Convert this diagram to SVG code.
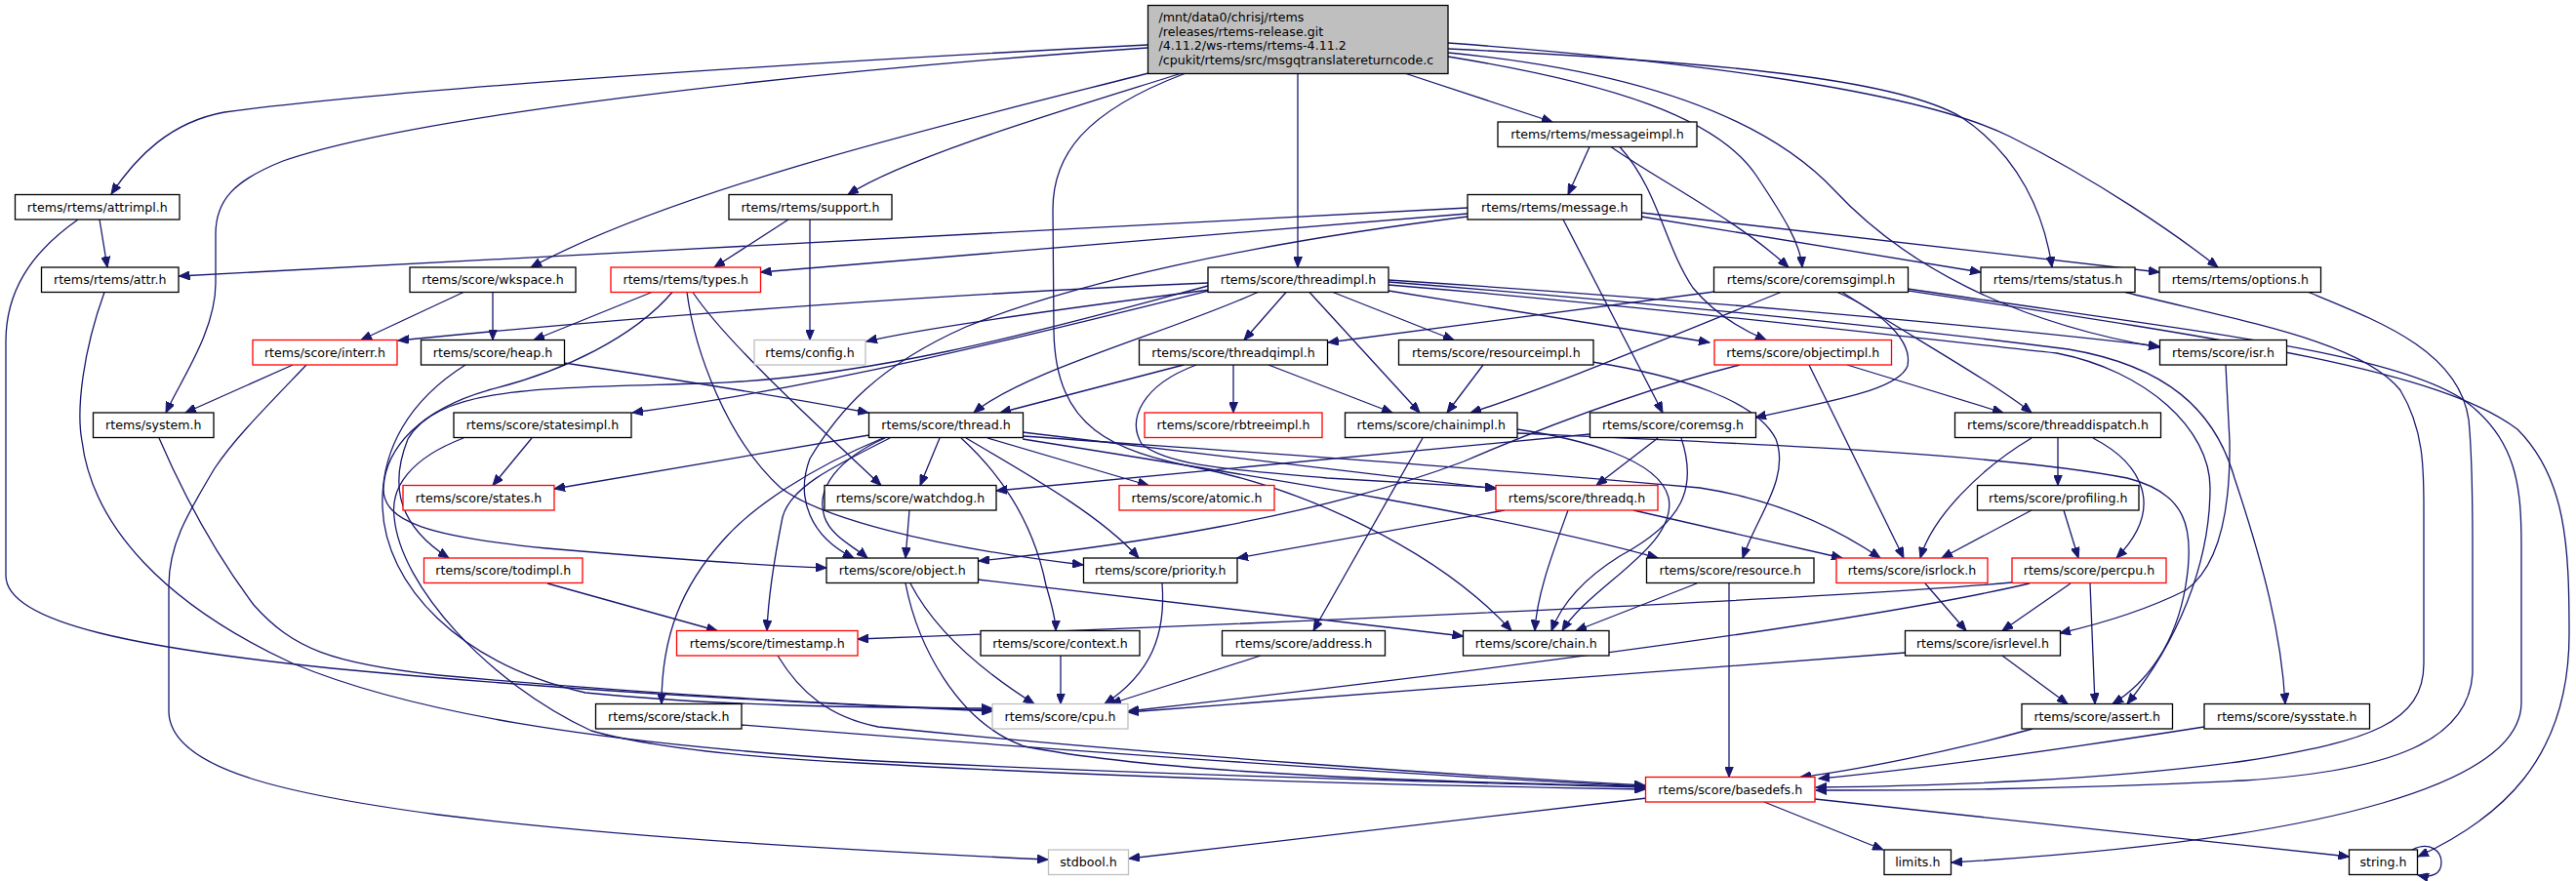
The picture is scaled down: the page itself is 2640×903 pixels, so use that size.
<svg xmlns="http://www.w3.org/2000/svg" width="2640" height="903" viewBox="0 0 2640 903">
<defs>
<marker id="a" markerUnits="userSpaceOnUse" markerWidth="12" markerHeight="9" refX="11" refY="4.5" orient="auto" viewBox="0 0 12 9"><path d="M0,0 L11,4.5 L0,9 z" fill="#191970" stroke="#191970" stroke-width="1"/></marker>
</defs>
<style>
.n rect{fill:#fff;stroke:#000;stroke-width:1.3}
.r rect{stroke:#ff0000}
.g rect{stroke:#bfbfbf}
text{font-family:"DejaVu Sans","Liberation Sans",sans-serif;font-size:12.6px;fill:#000;text-anchor:middle}
#edges path{fill:none;stroke:#191970;stroke-width:1.3;marker-end:url(#a)}
</style>
<rect width="2640" height="903" fill="#fff"/>
<g id="edges">
<path d="M1176,46 C900,60 430,88 230,115 C175,125 140,160 114,199"/>
<path d="M1176,49 C800,75 420,120 290,165 C240,185 221,205 221,240 L221,290 C221,340 185,390 170,423"/>
<path d="M1177,75 C1000,120 700,190 544,274"/>
<path d="M1211,75 C1100,110 930,160 869,199.5"/>
<path d="M1330,75.5 L1330,274"/>
<path d="M1441,75.5 L1591,125"/>
<path d="M1214,75.5 C1110,115 1079,160 1079,215 L1080,340 C1082,440 1140,462 1230,480 C1330,500 1470,560 1549,646.5"/>
<path d="M1484,58 C1650,85 1760,120 1800,180 C1830,225 1845,250 1847,274"/>
<path d="M1484,54 C1650,70 1800,110 1880,195 C1950,270 2060,330 2213,356"/>
<path d="M1484,50 C1800,65 1950,85 2010,120 C2070,160 2095,220 2103,274"/>
<path d="M1484,44 C1700,60 1960,90 2060,140 C2150,185 2230,240 2273,274"/>
<path d="M102,225 L110,274"/>
<path d="M80,225 C30,260 6,300 6,350 L6,590 C6,640 150,665 340,685 C600,710 850,722 1017,729"/>
<path d="M107,299.5 C85,360 78,420 84,452 C95,540 170,620 300,680 C420,730 600,760 880,779 C1200,795 1500,802 1686,807"/>
<path d="M163,449 C185,500 215,560 260,620 C300,665 340,680 449,692 C650,710 850,722 1017,728"/>
<path d="M300,374 L190,423"/>
<path d="M314,374 C270,420 240,450 220,480 C190,530 173,560 173,600 L173,730 C175,790 300,815 449,835 C650,860 900,873 1074,881"/>
<path d="M475,299.5 L370,348.5"/>
<path d="M505,299.5 L505,348.5"/>
<path d="M668,299.5 L547,348.5"/>
<path d="M689,299.5 C650,345 580,380 500,400 C430,420 395,460 393,500 C392,535 440,550 560,562 C700,574 790,580 847,582"/>
<path d="M710,299.5 C740,345 820,420 903,497.5"/>
<path d="M704,299.5 C712,360 745,450 800,500 C840,530 950,560 1110,579"/>
<path d="M808,225 L732,274"/>
<path d="M830,225 L830,348.5"/>
<path d="M578,372 C700,390 820,410 890,423"/>
<path d="M477,374 C420,410 390,460 392,520 C395,600 470,680 600,710 C750,725 900,725 1017,726"/>
<path d="M545,449 L505,497.5"/>
<path d="M475,449 C420,470 400,500 404,530 C410,600 500,700 606,749 C680,770 800,778 880,782 C1200,800 1500,806 1686,809"/>
<path d="M1238,290 C1000,300 700,320 408,349"/>
<path d="M1240,297 C1100,315 950,335 888,350"/>
<path d="M1239,298 C1050,345 850,395 648,423"/>
<path d="M1238,293 C1100,330 900,388 720,393 C560,398 450,395 418,450 C398,500 410,540 460,572"/>
<path d="M1289,299.5 C1200,340 1050,380 998,423"/>
<path d="M1318,299.5 L1275,348.5"/>
<path d="M1342,299.5 L1455,423"/>
<path d="M1366,299.5 L1490,348.5"/>
<path d="M1423,298 L1752,351"/>
<path d="M1423,287 C1700,305 2000,330 2213,355"/>
<path d="M1423,292 C1700,315 1950,345 2108,362 C2200,380 2265,440 2265,500 C2265,580 2230,660 2180,721.5"/>
<path d="M1423,289 C1720,312 1980,340 2120,358 C2220,375 2270,420 2290,490 C2320,580 2338,650 2342,721.5"/>
<path d="M1629,150.5 L1607,199.5"/>
<path d="M1651,150.5 C1700,185 1780,225 1833,274"/>
<path d="M1660,150.5 C1700,195 1705,250 1735,295 C1760,325 1790,340 1810,348.5"/>
<path d="M1504,213 L183.5,283"/>
<path d="M1504,219 L779.5,279"/>
<path d="M1504,222 C1280,250 1100,290 990,335 C900,375 860,420 830,470 C815,510 830,550 875,572"/>
<path d="M1602,225 L1704,423"/>
<path d="M1682,222 L2030,279"/>
<path d="M1682,218 L2213,279"/>
<path d="M1757,299 L1361,351"/>
<path d="M1825,299.5 C1700,350 1580,400 1507,423"/>
<path d="M1883,299.5 C1930,320 1960,350 1955,375 C1945,400 1880,410 1799,428"/>
<path d="M1888,299.5 C1950,340 2040,390 2082,423"/>
<path d="M1955,296 C2250,340 2450,360 2525,410 C2580,450 2584,500 2584,560 L2584,720 C2584,800 2400,860 2000,884"/>
<path d="M1955,298 C2300,350 2500,380 2580,440 C2630,490 2633,560 2633,650 C2633,780 2560,840 2478,878"/>
<path d="M2178,299.5 C2300,330 2420,350 2460,400 C2484,440 2484,480 2484,520 L2484,680 C2484,740 2430,760 2300,780 C2150,800 2000,805 1861,807"/>
<path d="M2366,299.5 C2440,330 2520,360 2530,430 C2534,470 2534,520 2534,560 L2534,690 C2530,760 2450,790 2300,800 C2100,810 1950,810 1861,810"/>
<path d="M2281,374 L2285,452 C2286,520 2275,580 2240,605 C2200,625 2150,640 2111,649"/>
<path d="M2109,449 L2109,497.5"/>
<path d="M2082,449 C2030,480 1980,530 1968,572"/>
<path d="M2145,449 C2195,475 2220,520 2169,572"/>
<path d="M2082,523 L1990,572"/>
<path d="M2115,523 L2130,572"/>
<path d="M1783,374 C1700,395 1600,430 1500,473 C1350,530 1150,560 1003,575"/>
<path d="M1854,374 L1951,572"/>
<path d="M1893,374 L2053,423"/>
<path d="M1520,374 L1483,423"/>
<path d="M1632,371 C1720,385 1800,410 1820,450 C1835,490 1800,530 1786,572"/>
<path d="M1213,374 L1025,423"/>
<path d="M1264,374 L1264,423"/>
<path d="M1300,374 L1427,423"/>
<path d="M1226,374 C1170,395 1155,430 1170,455 C1200,480 1280,482 1360,490 C1440,495 1490,497 1533,500"/>
<path d="M1048,443 L1533,501"/>
<path d="M890.5,446 L568,501"/>
<path d="M963,449 L943,497.5"/>
<path d="M907,449 C860,470 835,500 845,530 C852,550 875,560 889,572"/>
<path d="M905,449 C830,480 770,520 740,555 C700,600 678,650 678,721.5"/>
<path d="M912,449 C850,480 810,500 802,530 C792,580 787,620 786,646.5"/>
<path d="M990,449 C1060,490 1130,530 1167,572"/>
<path d="M985,449 C1030,490 1060,540 1072,600 C1078,620 1082,635 1082,646.5"/>
<path d="M1012,449 L1177,497.5"/>
<path d="M1048,447 C1300,465 1500,478 1742,500 C1820,512 1880,540 1927,572"/>
<path d="M1048,450 C1300,490 1550,530 1699,572"/>
<path d="M932,523 L928,572"/>
<path d="M928,598 C940,660 980,740 1050,765 C1200,795 1500,802 1686,806"/>
<path d="M933,598 C960,650 1010,690 1060,721.5"/>
<path d="M1002,594 L1499.5,652"/>
<path d="M1542,523 L1268,572"/>
<path d="M1607,523 C1590,570 1575,610 1573,646.5"/>
<path d="M1674,523 L1888,572"/>
<path d="M1699,449 L1636,497.5"/>
<path d="M1629.5,445 L1021,503"/>
<path d="M1723,449 C1740,500 1725,535 1660,570 C1620,595 1600,620 1590,646.5"/>
<path d="M1555,440 C1620,450 1700,470 1710,510 C1720,560 1630,600 1601,646.5"/>
<path d="M1458,449 L1346,646.5"/>
<path d="M1555,444 C1800,455 2050,465 2180,490 C2240,505 2250,540 2240,600 C2230,660 2200,700 2165,721.5"/>
<path d="M1739,598 L1615,646.5"/>
<path d="M1772,598 L1772,796.5"/>
<path d="M1087,672 L1087,721.5"/>
<path d="M1292,672 L1138,721.5"/>
<path d="M1191,598 C1195,650 1180,690 1132,721.5"/>
<path d="M561,598 L735,646.5"/>
<path d="M797,672 C820,710 850,735 900,745 C1200,775 1500,795 1686,805"/>
<path d="M760,743 C1100,770 1450,795 1686,806"/>
<path d="M1973,598 L2015,646.5"/>
<path d="M2122,598 L2052,646.5"/>
<path d="M2142,598 L2147,721.5"/>
<path d="M2062,597 C1900,612 1400,635 879,655"/>
<path d="M2080,598 C1900,640 1500,690 1156,729"/>
<path d="M1952.5,669 C1750,686 1400,710 1156,730"/>
<path d="M2052,672 L2119,721.5"/>
<path d="M2083,747 C2000,770 1900,790 1845,796.5"/>
<path d="M2259,745 C2100,770 1950,790 1864,798"/>
<path d="M1808,822 L1930,871"/>
<path d="M1860,819 L2407.5,878"/>
<path d="M1688,818 L1157,880"/>
<path d="M2472,871 C2490,862 2502,872 2502,884 C2502,896 2492,900 2478,897"/>
</g>
<g id="n_main" class="n"><rect x="1176.5" y="5.5" width="307.5" height="70" style="fill:#bfbfbf"/>
<text x="1187.5" y="21.8" style="text-anchor:start">/mnt/data0/chrisj/rtems</text>
<text x="1187.5" y="36.6" style="text-anchor:start">/releases/rtems-release.git</text>
<text x="1187.5" y="51.4" style="text-anchor:start">/4.11.2/ws-rtems/rtems-4.11.2</text>
<text x="1187.5" y="66.2" style="text-anchor:start">/cpukit/rtems/src/msgqtranslatereturncode.c</text></g>
<g id="n_attrimpl" class="n"><rect x="15.5" y="199.5" width="168.5" height="25.5"/><text x="99.75" y="216.7">rtems/rtems/attrimpl.h</text></g>
<g id="n_attr" class="n"><rect x="42.5" y="274" width="140.5" height="25.5"/><text x="112.75" y="291.2">rtems/rtems/attr.h</text></g>
<g id="n_wkspace" class="n"><rect x="420" y="274" width="170" height="25.5"/><text x="505" y="291.2">rtems/score/wkspace.h</text></g>
<g id="n_types" class="n r"><rect x="626" y="274" width="153.5" height="25.5"/><text x="702.75" y="291.2">rtems/rtems/types.h</text></g>
<g id="n_support" class="n"><rect x="747" y="199.5" width="167" height="25.5"/><text x="830.5" y="216.7">rtems/rtems/support.h</text></g>
<g id="n_interr" class="n r"><rect x="259" y="348.5" width="148" height="25.5"/><text x="333" y="365.7">rtems/score/interr.h</text></g>
<g id="n_heap" class="n"><rect x="431.5" y="348.5" width="147" height="25.5"/><text x="505" y="365.7">rtems/score/heap.h</text></g>
<g id="n_config" class="n g"><rect x="773" y="348.5" width="114" height="25.5"/><text x="830" y="365.7">rtems/config.h</text></g>
<g id="n_system" class="n"><rect x="95.5" y="423" width="123.5" height="25.5"/><text x="157.25" y="440.2">rtems/system.h</text></g>
<g id="n_statesimpl" class="n"><rect x="465" y="423" width="182" height="25.5"/><text x="556" y="440.2">rtems/score/statesimpl.h</text></g>
<g id="n_messageimpl" class="n"><rect x="1535" y="125" width="204" height="25.5"/><text x="1637" y="142.2">rtems/rtems/messageimpl.h</text></g>
<g id="n_message" class="n"><rect x="1504" y="199.5" width="178.5" height="25.5"/><text x="1593.25" y="216.7">rtems/rtems/message.h</text></g>
<g id="n_threadimpl" class="n"><rect x="1238" y="274" width="185" height="25.5"/><text x="1330.5" y="291.2">rtems/score/threadimpl.h</text></g>
<g id="n_threadqimpl" class="n"><rect x="1167.5" y="348.5" width="193" height="25.5"/><text x="1264" y="365.7">rtems/score/threadqimpl.h</text></g>
<g id="n_resourceimpl" class="n"><rect x="1433.5" y="348.5" width="199.5" height="25.5"/><text x="1533.25" y="365.7">rtems/score/resourceimpl.h</text></g>
<g id="n_objectimpl" class="n r"><rect x="1757" y="348.5" width="181.5" height="25.5"/><text x="1847.75" y="365.7">rtems/score/objectimpl.h</text></g>
<g id="n_thread" class="n"><rect x="890.5" y="423" width="158" height="25.5"/><text x="969.5" y="440.2">rtems/score/thread.h</text></g>
<g id="n_rbtreeimpl" class="n r"><rect x="1173" y="423" width="182" height="25.5"/><text x="1264" y="440.2">rtems/score/rbtreeimpl.h</text></g>
<g id="n_chainimpl" class="n"><rect x="1378.5" y="423" width="176.5" height="25.5"/><text x="1466.75" y="440.2">rtems/score/chainimpl.h</text></g>
<g id="n_coremsg" class="n"><rect x="1629.5" y="423" width="170" height="25.5"/><text x="1714.5" y="440.2">rtems/score/coremsg.h</text></g>
<g id="n_coremsgimpl" class="n"><rect x="1756.5" y="274" width="199" height="25.5"/><text x="1856" y="291.2">rtems/score/coremsgimpl.h</text></g>
<g id="n_status" class="n"><rect x="2030" y="274" width="158" height="25.5"/><text x="2109" y="291.2">rtems/rtems/status.h</text></g>
<g id="n_options" class="n"><rect x="2213" y="274" width="165.5" height="25.5"/><text x="2295.75" y="291.2">rtems/rtems/options.h</text></g>
<g id="n_isr" class="n"><rect x="2213.5" y="348.5" width="130" height="25.5"/><text x="2278.5" y="365.7">rtems/score/isr.h</text></g>
<g id="n_threaddispatch" class="n"><rect x="2003.5" y="423" width="211" height="25.5"/><text x="2109" y="440.2">rtems/score/threaddispatch.h</text></g>
<g id="n_states" class="n r"><rect x="413" y="497.5" width="155" height="25.5"/><text x="490.5" y="514.7">rtems/score/states.h</text></g>
<g id="n_todimpl" class="n r"><rect x="434.5" y="572" width="162.5" height="25.5"/><text x="515.75" y="589.2">rtems/score/todimpl.h</text></g>
<g id="n_timestamp" class="n r"><rect x="693.5" y="646.5" width="185.5" height="25.5"/><text x="786.25" y="663.7">rtems/score/timestamp.h</text></g>
<g id="n_stack" class="n"><rect x="610.5" y="721.5" width="149.5" height="25.5"/><text x="685.25" y="738.7">rtems/score/stack.h</text></g>
<g id="n_watchdog" class="n"><rect x="845" y="497.5" width="176" height="25.5"/><text x="933" y="514.7">rtems/score/watchdog.h</text></g>
<g id="n_object" class="n"><rect x="847" y="572" width="155.5" height="25.5"/><text x="924.75" y="589.2">rtems/score/object.h</text></g>
<g id="n_atomic" class="n r"><rect x="1147" y="497.5" width="159" height="25.5"/><text x="1226.5" y="514.7">rtems/score/atomic.h</text></g>
<g id="n_threadq" class="n r"><rect x="1533" y="497.5" width="166" height="25.5"/><text x="1616" y="514.7">rtems/score/threadq.h</text></g>
<g id="n_priority" class="n"><rect x="1110.5" y="572" width="157.5" height="25.5"/><text x="1189.25" y="589.2">rtems/score/priority.h</text></g>
<g id="n_resource" class="n"><rect x="1687.5" y="572" width="171.5" height="25.5"/><text x="1773.25" y="589.2">rtems/score/resource.h</text></g>
<g id="n_context" class="n"><rect x="1005" y="646.5" width="163" height="25.5"/><text x="1086.5" y="663.7">rtems/score/context.h</text></g>
<g id="n_address" class="n"><rect x="1252.5" y="646.5" width="167" height="25.5"/><text x="1336" y="663.7">rtems/score/address.h</text></g>
<g id="n_chain" class="n"><rect x="1499.5" y="646.5" width="149.5" height="25.5"/><text x="1574.25" y="663.7">rtems/score/chain.h</text></g>
<g id="n_cpu" class="n g"><rect x="1017" y="721.5" width="139" height="25.5"/><text x="1086.5" y="738.7">rtems/score/cpu.h</text></g>
<g id="n_basedefs" class="n r"><rect x="1686.5" y="796.5" width="173.5" height="25.5"/><text x="1773.25" y="813.7">rtems/score/basedefs.h</text></g>
<g id="n_stdbool" class="n g"><rect x="1074.5" y="871" width="82" height="25.5"/><text x="1115.5" y="888.2">stdbool.h</text></g>
<g id="n_profiling" class="n"><rect x="2026.5" y="497.5" width="165.5" height="25.5"/><text x="2109.25" y="514.7">rtems/score/profiling.h</text></g>
<g id="n_isrlock" class="n r"><rect x="1882" y="572" width="155" height="25.5"/><text x="1959.5" y="589.2">rtems/score/isrlock.h</text></g>
<g id="n_percpu" class="n r"><rect x="2062" y="572" width="158" height="25.5"/><text x="2141" y="589.2">rtems/score/percpu.h</text></g>
<g id="n_isrlevel" class="n"><rect x="1952.5" y="646.5" width="159" height="25.5"/><text x="2032" y="663.7">rtems/score/isrlevel.h</text></g>
<g id="n_assert" class="n"><rect x="2072" y="721.5" width="154.5" height="25.5"/><text x="2149.25" y="738.7">rtems/score/assert.h</text></g>
<g id="n_sysstate" class="n"><rect x="2259" y="721.5" width="169.5" height="25.5"/><text x="2343.75" y="738.7">rtems/score/sysstate.h</text></g>
<g id="n_limits" class="n"><rect x="1931" y="871" width="68.5" height="25.5"/><text x="1965.25" y="888.2">limits.h</text></g>
<g id="n_string" class="n"><rect x="2407.5" y="871" width="70" height="25.5"/><text x="2442.5" y="888.2">string.h</text></g>
</svg>
